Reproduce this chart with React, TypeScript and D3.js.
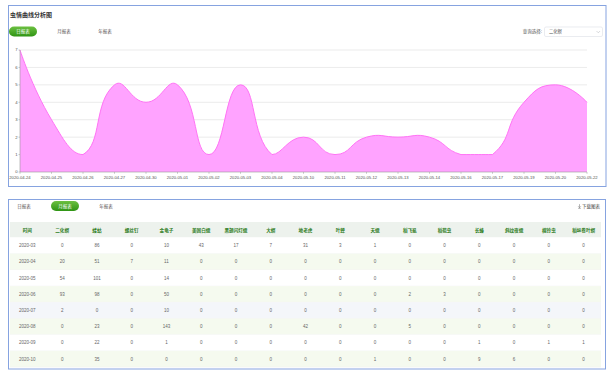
import React from 'react';
import * as d3 from 'd3';

const dates = ['2020-04-24','2020-04-25','2020-04-26','2020-04-27','2020-04-30','2020-05-01','2020-05-02','2020-05-03','2020-05-04','2020-05-10','2020-05-11','2020-05-12','2020-05-13','2020-05-14','2020-05-16','2020-05-17','2020-05-19','2020-05-20','2020-05-22'];
const counts = [7,3,1,5,4,5,1,5,1,2,1,2,2,2,1,1,4,5,4];
const yTicks = [0,1,2,3,4,5,6,7];

const columns = ['时间','二化螟','蝼蛄','螺丝钉','金龟子','美国白蛾','黑翅闪灯蛾','大螟','地老虎','叶蝉','天蛾','稻飞虱','稻苞虫','长蝽','斜纹夜蛾','棉铃虫','稻纵卷叶螟'];
const months = ['2020-03','2020-04','2020-05','2020-06','2020-07','2020-08','2020-09','2020-10'];
const m03 = [0,86,0,10,43,17,7,31,3,1,0,0,0,0,0,0];
const m04 = [20,51,7,11,0,0,0,0,0,0,0,0,0,0,0,0];
const m05 = [54,101,0,14,0,0,0,0,0,0,0,0,0,0,0,0];
const m06 = [93,98,0,50,0,0,0,0,0,0,2,3,0,0,0,0];
const m07 = [2,0,0,10,0,0,0,0,0,0,0,0,0,0,0,0];
const m08 = [0,23,0,143,0,0,0,42,0,0,5,0,0,0,0,0];
const m09 = [0,22,0,1,0,0,0,0,0,0,0,0,1,0,1,1];
const m10 = [0,35,0,0,0,0,0,0,0,1,0,0,9,6,0,0];
const tableRows = [m03,m04,m05,m06,m07,m08,m09,m10];

const FONT = '"Noto Sans CJK SC", "Noto Sans", sans-serif';

function smoothBezierPath(pts: [number, number][], smooth: number, path: any, move: boolean) {
  const min = [Infinity, Infinity], max = [-Infinity, -Infinity];
  pts.forEach(p => { min[0] = Math.min(min[0], p[0]); min[1] = Math.min(min[1], p[1]); max[0] = Math.max(max[0], p[0]); max[1] = Math.max(max[1], p[1]); });
  const cps: [number, number][] = [];
  const n = pts.length;
  for (let i = 0; i < n; i++) {
    const p = pts[i];
    if (i === 0 || i === n - 1) { cps.push([p[0], p[1]]); continue; }
    const prev = pts[i - 1], next = pts[i + 1];
    const vx = (next[0] - prev[0]) * smooth, vy = (next[1] - prev[1]) * smooth;
    let d0 = Math.hypot(p[0] - prev[0], p[1] - prev[1]);
    let d1 = Math.hypot(p[0] - next[0], p[1] - next[1]);
    const sum = d0 + d1;
    if (sum !== 0) { d0 /= sum; d1 /= sum; }
    const clamp = (c: [number, number]): [number, number] => [Math.min(Math.max(c[0], min[0]), max[0]), Math.min(Math.max(c[1], min[1]), max[1])];
    cps.push(clamp([p[0] - vx * d0, p[1] - vy * d0]));
    cps.push(clamp([p[0] + vx * d1, p[1] + vy * d1]));
  }
  if (move) path.moveTo(pts[0][0], pts[0][1]);
  for (let i = 1; i < n; i++) {
    const a = cps[(i - 1) * 2], b = cps[(i - 1) * 2 + 1];
    path.bezierCurveTo(a[0], a[1], b[0], b[1], pts[i][0], pts[i][1]);
  }
  return path;
}

function Button({ x, y, w, label, active }: { x: number; y: number; w: number; label: string; active: boolean }) {
  return (
    <g>
      {active && <rect x={x} y={y} width={w} height={10} rx={5} fill="url(#btnGrad)" />}
      <text x={x + w / 2} y={y + 6.6} textAnchor="middle" fontSize={4.5} fill={active ? '#fff' : '#555'} fontFamily={FONT}>{label}</text>
    </g>
  );
}

export default function App() {
  const x = d3.scalePoint<string>().domain(dates).range([20, 587]);
  const y = d3.scaleLinear().domain([0, 7]).range([172, 50]);
  const pts: [number, number][] = dates.map((d, i) => [x(d) as number, y(counts[i])]);
  const linePath = smoothBezierPath(pts, 0.5, d3.path(), true).toString();
  const ap = smoothBezierPath(pts, 0.5, d3.path(), true);
  ap.lineTo(pts[pts.length - 1][0], y(0));
  ap.lineTo(pts[0][0], y(0));
  ap.closePath();
  const areaPath = ap.toString();

  const tableLeft = 10, tableRight = 601;
  const colX = d3.scaleBand<number>().domain(columns.map((_, i) => i)).range([tableLeft, tableRight]);
  const headerTop = 222, headerH = 15.5, rowH = 16.2;
  const rowBg = ['#ffffff', '#f5faef', '#ffffff', '#f5faef', '#f4f6fa', '#f5faef', '#ffffff', '#f5faef'];

  return (
    <svg width={614} height={379} style={{ position: 'absolute', left: 0, top: 0 }} fontFamily={FONT}>
      <defs>
        <linearGradient id="btnGrad" x1="0" y1="0" x2="0" y2="1">
          <stop offset="0" stopColor="#6cc040" />
          <stop offset="1" stopColor="#2f9414" />
        </linearGradient>
      </defs>
      <rect x={0} y={0} width={614} height={379} fill="#fff" />
      {/* top panel */}
      <rect x={8.5} y={5.5} width={597.5} height={181} fill="#fff" stroke="#86a3e0" strokeWidth={1} />
      <text x={10} y={17} fontSize={6} fontWeight="bold" fill="#333">虫情曲线分析图</text>
      <Button x={9} y={26.5} w={28} label="日报表" active={true} />
      <Button x={50} y={26.5} w={28} label="月报表" active={false} />
      <Button x={91} y={26.5} w={28} label="年报表" active={false} />
      <text x={542} y={33} textAnchor="end" fontSize={4.5} fill="#555">查询选择:</text>
      <rect x={544.5} y={27} width={58} height={9.5} rx={1.5} fill="#fff" stroke="#dcdfe6" strokeWidth={0.6} />
      <text x={549} y={33.3} fontSize={4.3} fill="#555">二化螟</text>
      <path d="M596.5,31 L598.3,32.8 L600.1,31" fill="none" stroke="#b0b3b8" strokeWidth={0.5} />

      {/* grid */}
      {yTicks.map(t => (
        <line key={t} x1={20} x2={587} y1={y(t)} y2={y(t)} stroke={t === 0 ? 'none' : '#e6e6e6'} strokeWidth={0.8} />
      ))}
      <path d={areaPath} fill="#ffa3ff" />
      <path d={linePath} fill="none" stroke="#ff73f5" strokeWidth={1} />
      {/* axes */}
      <line x1={20} x2={20} y1={y(7)} y2={y(0)} stroke="#999" strokeWidth={0.6} />
      <line x1={20} x2={587} y1={y(0)} y2={y(0)} stroke="#999" strokeWidth={0.6} />
      {yTicks.map(t => (
        <g key={t}>
          <line x1={18.5} x2={20} y1={y(t)} y2={y(t)} stroke="#999" strokeWidth={0.5} />
          <text x={17.5} y={y(t) + 1.4} textAnchor="end" fontSize={4.2} fill="#555" fontFamily="Arial, 'Liberation Sans', sans-serif">{t}</text>
        </g>
      ))}
      {dates.map(d => (
        <g key={d}>
          <line x1={x(d)} x2={x(d)} y1={y(0)} y2={y(0) + 1.8} stroke="#999" strokeWidth={0.5} />
          <text x={x(d)} y={179} textAnchor="middle" fontSize={4.2} fill="#555" fontFamily="Arial, 'Liberation Sans', sans-serif">{d}</text>
        </g>
      ))}

      {/* bottom panel */}
      <rect x={8.5} y={199.5} width={597} height={169.5} fill="#fff" stroke="#86a3e0" strokeWidth={1} />
      <Button x={10} y={201} w={28} label="日报表" active={false} />
      <Button x={51} y={201} w={28} label="月报表" active={true} />
      <Button x={92} y={201} w={28} label="年报表" active={false} />
      <path d="M579.5,204.2 L579.5,207.6 M578.2,206.3 L579.5,207.7 L580.8,206.3 M578.2,208.4 L580.8,208.4" fill="none" stroke="#555" strokeWidth={0.45} />
      <text x={582} y={208} fontSize={4.5} fill="#444">下载图表</text>

      <rect x={tableLeft} y={headerTop} width={tableRight - tableLeft} height={headerH} fill="#edf2ed" />
      {columns.map((c, i) => (
        <text key={c} x={(colX(i) as number) + colX.bandwidth() / 2} y={headerTop + 9.5} textAnchor="middle" fontSize={4.6} fontWeight="bold" fill="#2f7d1e">{c}</text>
      ))}
      {months.map((m, r) => {
        const top = headerTop + headerH + r * rowH;
        const cells = [m, ...tableRows[r].map(String)];
        return (
          <g key={m}>
            <rect x={tableLeft} y={top} width={tableRight - tableLeft} height={rowH} fill={rowBg[r]} />
            <line x1={tableLeft} x2={tableRight} y1={top + rowH} y2={top + rowH} stroke="#eef0f3" strokeWidth={0.5} />
            {cells.map((v, i) => (
              <text key={i} x={(colX(i) as number) + colX.bandwidth() / 2} y={top + rowH / 2 + 1.6} textAnchor="middle" fontSize={4.5} fill="#666" fontFamily="Arial, 'Liberation Sans', sans-serif">{v}</text>
            ))}
          </g>
        );
      })}
    </svg>
  );
}
